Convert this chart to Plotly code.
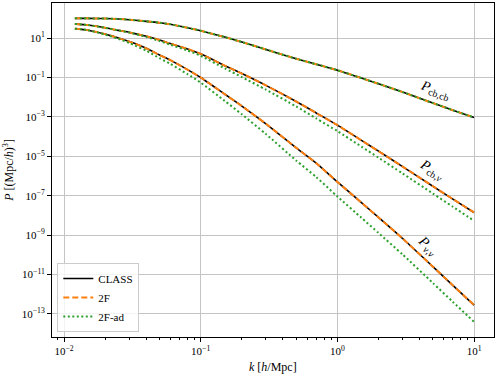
import numpy as np
import plotly.graph_objects as go

# wavenumbers k [h/Mpc]
k = [0.012, 0.015, 0.02, 0.025, 0.03, 0.04, 0.05, 0.06, 0.08, 0.1, 0.15, 0.2,
     0.3, 0.5, 0.7, 1.0, 1.5, 2.0, 3.0, 5.0, 7.0, 10.0]

# log10 of the power spectra
log_cbcb = [2.0, 2.0, 1.99, 1.97, 1.93, 1.85, 1.78, 1.70, 1.52, 1.37, 1.05, 0.80,
            0.42, -0.05, -0.33, -0.63, -1.03, -1.32, -1.74, -2.30, -2.66, -3.03]
log_cbnu = [1.72, 1.66, 1.52, 1.39, 1.29, 1.09, 0.90, 0.72, 0.45, 0.20, -0.40, -0.80,
            -1.40, -2.22, -2.80, -3.42, -4.19, -4.74, -5.52, -6.52, -7.17, -7.85]
log_nunu = [1.48, 1.40, 1.20, 1.00, 0.82, 0.48, 0.14, -0.12, -0.60, -1.00, -1.85, -2.45,
            -3.35, -4.57, -5.35, -6.30, -7.35, -8.10, -9.17, -10.60, -11.55, -12.55]

# 2F-ad (adiabatic) approximation
log_cbcb_ad = log_cbcb
log_cbnu_ad = [1.72, 1.66, 1.52, 1.39, 1.28, 1.06, 0.85, 0.66, 0.37, 0.10, -0.54, -0.98,
               -1.62, -2.47, -3.08, -3.72, -4.51, -5.07, -5.87, -6.89, -7.56, -8.27]
log_nunu_ad = [1.48, 1.40, 1.18, 0.96, 0.75, 0.36, -0.02, -0.31, -0.83, -1.26, -2.19, -2.87,
               -3.87, -5.22, -6.05, -7.04, -8.12, -8.89, -9.98, -11.43, -12.39, -13.40]

curve_labels = ["<i>P</i><sub>cb,cb</sub>", "<i>P</i><sub>cb,<i>ν</i></sub>", "<i>P</i><sub><i>ν</i>,<i>ν</i></sub>"]
label_k = [5.2, 4.95, 4.6]
label_P = [2.3e-2, 2.0e-6, 2.8e-10]
label_angle = [20, 31, 43]

ytick_exp = [1, -1, -3, -5, -7, -9, -11, -13]
xtick_exp = [-2, -1, 0, 1]

FONT = "Liberation Serif"


def sup(e):
    return "10<sup>" + str(e).replace("-", "\u2212") + "</sup>"


fig = go.Figure()
first = True
for logs, logs_ad in [(log_cbcb, log_cbcb_ad), (log_cbnu, log_cbnu_ad), (log_nunu, log_nunu_ad)]:
    P = 10 ** np.array(logs)
    P_ad = 10 ** np.array(logs_ad)
    fig.add_trace(go.Scatter(x=k, y=P, mode="lines", name="CLASS", showlegend=first,
                             line=dict(color="black", width=1.6, shape="spline", smoothing=0.6)))
    fig.add_trace(go.Scatter(x=k, y=P, mode="lines", name="2F", showlegend=first,
                             line=dict(color="#ff7f0e", width=2, dash="6px,3px", shape="spline", smoothing=0.6)))
    fig.add_trace(go.Scatter(x=k, y=P_ad, mode="lines", name="2F-ad", showlegend=first,
                             line=dict(color="#2ca02c", width=2, dash="2px,2.5px", shape="spline", smoothing=0.6)))
    first = False

# reorder so legend lists CLASS, 2F, 2F-ad
fig.data = tuple(sorted(fig.data, key=lambda t: ["CLASS", "2F", "2F-ad"].index(t.name)))

for txt, kx, py, ang in zip(curve_labels, label_k, label_P, label_angle):
    fig.add_annotation(x=np.log10(kx), y=np.log10(py), text=txt, showarrow=False,
                       textangle=ang, font=dict(family=FONT, size=14, color="black"))

# axis titles
fig.add_annotation(x=0.5, y=-0.062, xref="paper", yref="paper", yanchor="top", showarrow=False,
                   text="<i>k</i> [<i>h</i>/Mpc]", font=dict(family=FONT, size=12))
fig.add_annotation(x=-0.1, y=0.5, xref="paper", yref="paper", xanchor="center", showarrow=False,
                   textangle=-90, text="<i>P</i> [(Mpc/<i>h</i>)<sup>3</sup>]", font=dict(family=FONT, size=12))

minor_x = [m * 10.0 ** e for e in range(-3, 2) for m in range(2, 10)]
minor_x = [v for v in minor_x if 10 ** -2.088 < v < 10 ** 1.146]

fig.update_layout(
    width=498, height=374,
    margin=dict(l=52, r=4, t=3, b=37, autoexpand=False),
    plot_bgcolor="white", paper_bgcolor="white",
    font=dict(family=FONT, size=11, color="black"),
    showlegend=True,
    legend=dict(x=0.012, y=0.015, xanchor="left", yanchor="bottom",
                bgcolor="rgba(255,255,255,0.8)", bordercolor="#cccccc", borderwidth=1,
                font=dict(family=FONT, size=11), tracegroupgap=0, itemwidth=30),
    xaxis=dict(type="log", range=[-2.088, 1.146], automargin=False,
               tickvals=[10.0 ** e for e in xtick_exp], ticktext=[sup(e) for e in xtick_exp],
               ticks="outside", ticklen=4, tickcolor="black",
               showline=True, linecolor="black", linewidth=1, mirror=True,
               showgrid=True, gridcolor="#c4c4c4", gridwidth=1, zeroline=False,
               minor=dict(tickvals=minor_x, ticks="outside", ticklen=2, tickcolor="black", showgrid=False)),
    yaxis=dict(type="log", range=[-14.17, 2.78], automargin=False,
               tickvals=[10.0 ** e for e in ytick_exp], ticktext=[sup(e) for e in ytick_exp],
               ticks="outside", ticklen=4, tickcolor="black",
               showline=True, linecolor="black", linewidth=1, mirror=True,
               showgrid=True, gridcolor="#c4c4c4", gridwidth=1, zeroline=False),
)

# drop the page's default body margin so the figure sits at the window's corner
fig.write_html("out.html", config={"displayModeBar": False},
               post_script="document.body.style.margin='0';")
